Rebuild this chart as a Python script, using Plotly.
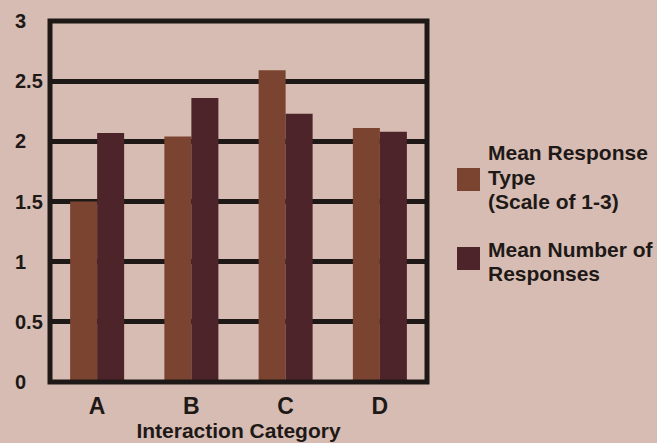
import plotly.graph_objects as go

# Chart data
categories = ["A", "B", "C", "D"]
mean_response_type = [1.50, 2.04, 2.59, 2.11]
mean_num_responses = [2.07, 2.36, 2.23, 2.08]
y_ticks = [0, 0.5, 1, 1.5, 2, 2.5, 3]
y_tick_labels = ["0", "0.5", "1", "1.5", "2", "2.5", "3"]
legend_names = [["Mean Response", "Type", "(Scale of 1-3)"], ["Mean Number of", "Responses"]]

BG = "#d6bcb2"
INK = "#1e1917"
ORANGE = "#7b4430"
MAROON = "#4e242b"
FONT = "Liberation Sans, Arial, sans-serif"

W, H = 657, 443
L, R, T, B = 50, 230, 21, 61
plot_w = W - L - R
plot_h = H - T - B


def px_x(px):
    return (px - L) / plot_w


def px_y(py):
    return (H - B - py) / plot_h


fig = go.Figure()
fig.add_trace(go.Bar(x=categories, y=mean_response_type, marker=dict(color=ORANGE, line=dict(width=0)),
                     name="Mean Response Type (Scale of 1-3)", showlegend=False))
fig.add_trace(go.Bar(x=categories, y=mean_num_responses, marker=dict(color=MAROON, line=dict(width=0)),
                     name="Mean Number of Responses", showlegend=False))

annotations = []
# y tick labels, left aligned
for v, t in zip(y_ticks, y_tick_labels):
    annotations.append(dict(x=px_x(13), xref="paper", y=v, yref="y", text=t, showarrow=False,
                            xanchor="left", yanchor="middle",
                            font=dict(family=FONT, size=20, color=INK, weight="bold")))

# legend: swatches and text lines
shapes = []
swatch_tops = [168, 247]
line_centers = [[153, 177, 201], [249, 273]]
for color, top, names, centers in zip([ORANGE, MAROON], swatch_tops, legend_names, line_centers):
    shapes.append(dict(type="rect", xref="paper", yref="paper",
                       x0=px_x(457), x1=px_x(480), y0=px_y(top + 23), y1=px_y(top),
                       fillcolor=color, line=dict(width=0)))
    for name, cy in zip(names, centers):
        annotations.append(dict(x=px_x(486), xref="paper", y=px_y(cy), yref="paper", text=name,
                                showarrow=False, xanchor="left", yanchor="middle",
                                font=dict(family=FONT, size=21, color=INK, weight="bold")))

# plot frame
shapes.append(dict(type="rect", xref="paper", yref="paper", x0=0, x1=1, y0=0, y1=1,
                   line=dict(color=INK, width=5), layer="above"))

fig.update_layout(
    width=W, height=H,
    margin=dict(l=L, r=R, t=T, b=B, pad=0, autoexpand=False),
    paper_bgcolor=BG, plot_bgcolor=BG,
    barmode="group", bargap=0.427, bargroupgap=0,
    showlegend=False,
    shapes=shapes,
    annotations=annotations,
    xaxis=dict(
        range=[-0.5, 3.5], showgrid=False, zeroline=False, showline=False, ticks="",
        automargin=False,
        tickfont=dict(family=FONT, size=23, color=INK, weight="bold"),
        ticklabelstandoff=8,
        title=dict(text="Interaction Category", standoff=4,
                   font=dict(family=FONT, size=21, color=INK, weight="bold")),
    ),
    yaxis=dict(
        range=[0, 3], tickvals=y_ticks, showticklabels=False, ticks="",
        automargin=False,
        showgrid=True, gridcolor=INK, gridwidth=5, zeroline=False, showline=False,
    ),
)

fig.write_html("out.html")
